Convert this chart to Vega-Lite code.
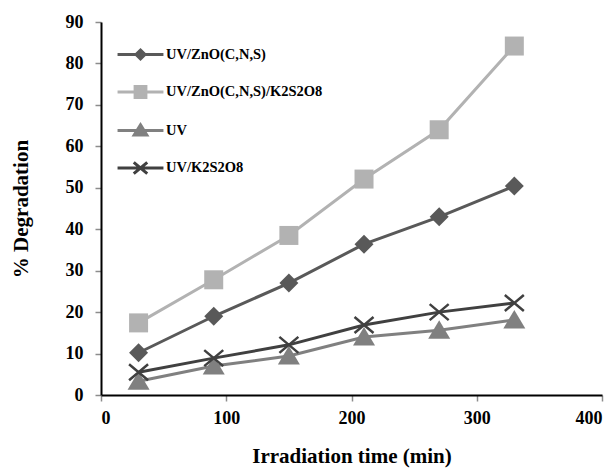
{
  "$schema": "https://vega.github.io/schema/vega-lite/v6.json",
  "width": 501,
  "height": 373,
  "autosize": {"type": "none"},
  "padding": {"left": 101, "top": 22, "right": 14, "bottom": 73},
  "background": "white",
  "config": {
    "view": {"stroke": null},
    "font": "Liberation Serif",
    "axis": {
      "grid": false,
      "labelFont": "Liberation Serif",
      "labelFontSize": 18,
      "labelFontWeight": "bold",
      "labelColor": "black",
      "titleFont": "Liberation Serif",
      "titleFontSize": 21,
      "titleFontWeight": "bold",
      "titleColor": "black",
      "domainColor": "black",
      "domainWidth": 2,
      "tickColor": "#8c8c8c",
      "tickWidth": 1.5,
      "tickSize": 6
    }
  },
  "data": {
    "values": [
      {"series": "UV/ZnO(C,N,S)", "time": 30, "deg": 10.2},
      {"series": "UV/ZnO(C,N,S)", "time": 90, "deg": 19.0},
      {"series": "UV/ZnO(C,N,S)", "time": 150, "deg": 27.0},
      {"series": "UV/ZnO(C,N,S)", "time": 210, "deg": 36.4},
      {"series": "UV/ZnO(C,N,S)", "time": 270, "deg": 43.0},
      {"series": "UV/ZnO(C,N,S)", "time": 330, "deg": 50.4},
      {"series": "UV/ZnO(C,N,S)/K2S2O8", "time": 30, "deg": 17.4},
      {"series": "UV/ZnO(C,N,S)/K2S2O8", "time": 90, "deg": 27.8},
      {"series": "UV/ZnO(C,N,S)/K2S2O8", "time": 150, "deg": 38.5},
      {"series": "UV/ZnO(C,N,S)/K2S2O8", "time": 210, "deg": 52.1},
      {"series": "UV/ZnO(C,N,S)/K2S2O8", "time": 270, "deg": 64.0},
      {"series": "UV/ZnO(C,N,S)/K2S2O8", "time": 330, "deg": 84.2},
      {"series": "UV", "time": 30, "deg": 3.3},
      {"series": "UV", "time": 90, "deg": 7.0},
      {"series": "UV", "time": 150, "deg": 9.4},
      {"series": "UV", "time": 210, "deg": 14.0},
      {"series": "UV", "time": 270, "deg": 15.6},
      {"series": "UV", "time": 330, "deg": 18.1},
      {"series": "UV/K2S2O8", "time": 30, "deg": 5.5},
      {"series": "UV/K2S2O8", "time": 90, "deg": 8.9},
      {"series": "UV/K2S2O8", "time": 150, "deg": 12.1},
      {"series": "UV/K2S2O8", "time": 210, "deg": 16.9},
      {"series": "UV/K2S2O8", "time": 270, "deg": 20.0},
      {"series": "UV/K2S2O8", "time": 330, "deg": 22.2}
    ]
  },
  "encoding": {
    "x": {
      "field": "time",
      "type": "quantitative",
      "scale": {"domain": [0, 400], "nice": false},
      "axis": {"values": [0, 100, 200, 300, 400], "title": "Irradiation time (min)", "labelPadding": 8, "titlePadding": 18}
    },
    "y": {
      "field": "deg",
      "type": "quantitative",
      "scale": {"domain": [0, 90], "nice": false},
      "axis": {"values": [0, 10, 20, 30, 40, 50, 60, 70, 80, 90], "title": "% Degradation", "labelPadding": 12, "titlePadding": 34}
    },
    "color": {
      "field": "series",
      "type": "nominal",
      "sort": null,
      "scale": {
        "domain": ["UV/ZnO(C,N,S)", "UV/ZnO(C,N,S)/K2S2O8", "UV", "UV/K2S2O8"],
        "range": ["#595959", "#b2b2b2", "#808080", "#404040"]
      },
      "legend": {
        "orient": "none",
        "legendX": 23,
        "legendY": 16,
        "title": null,
        "padding": 0,
        "symbolSize": 900,
        "symbolStrokeWidth": 3,
        "symbolOpacity": 1,
        "rowPadding": 10.5,
        "labelOffset": 9,
        "labelLimit": 0,
        "labelFont": "Liberation Serif",
        "labelFontSize": 14.5,
        "labelFontWeight": "bold",
        "labelColor": "black"
      }
    }
  },
  "layer": [
    {"mark": {"type": "line", "strokeWidth": 3}},
    {
      "transform": [{"filter": "datum.series === 'UV/ZnO(C,N,S)'"}],
      "mark": {"type": "point", "filled": true, "size": 400, "opacity": 1, "strokeWidth": 0, "shape": "M0,-0.95L0.95,0L0,0.95L-0.95,0Z"}
    },
    {
      "transform": [{"filter": "datum.series === 'UV/ZnO(C,N,S)/K2S2O8'"}],
      "mark": {"type": "point", "filled": true, "size": 400, "opacity": 1, "strokeWidth": 0, "shape": "M-0.95,-0.95L0.95,-0.95L0.95,0.95L-0.95,0.95Z"}
    },
    {
      "transform": [{"filter": "datum.series === 'UV'"}],
      "mark": {"type": "point", "filled": true, "size": 400, "opacity": 1, "strokeWidth": 0, "shape": "M0,-1.0L1.1,0.85L-1.1,0.85Z"}
    },
    {
      "transform": [{"filter": "datum.series === 'UV/K2S2O8'"}],
      "mark": {"type": "point", "filled": false, "size": 400, "opacity": 1, "strokeWidth": 2.5, "shape": "M-0.95,-0.8L0.95,0.8M-0.95,0.8L0.95,-0.8"}
    },
    {
      "mark": {"type": "point", "filled": true, "size": 900, "opacity": 0, "strokeWidth": 3},
      "encoding": {
        "shape": {
          "field": "series",
          "type": "nominal",
          "scale": {
            "domain": ["UV/ZnO(C,N,S)", "UV/ZnO(C,N,S)/K2S2O8", "UV", "UV/K2S2O8"],
            "range": [
              "M-1.53,0L1.53,0M0,-0.3L0.3,0L0,0.3L-0.3,0Z",
              "M-1.53,0L1.53,0M-0.36,-0.36L0.36,-0.36L0.36,0.36L-0.36,0.36Z",
              "M-1.53,0L1.53,0M0,-0.38L0.42,0.3L-0.42,0.3Z",
              "M-1.53,0L1.53,0M-0.45,-0.38L0.45,0.38M-0.45,0.38L0.45,-0.38"
            ]
          }
        },
        "stroke": {
          "field": "series",
          "type": "nominal",
          "scale": {
            "domain": ["UV/ZnO(C,N,S)", "UV/ZnO(C,N,S)/K2S2O8", "UV", "UV/K2S2O8"],
            "range": ["#595959", "#b2b2b2", "#808080", "#404040"]
          }
        }
      }
    }
  ]
}
